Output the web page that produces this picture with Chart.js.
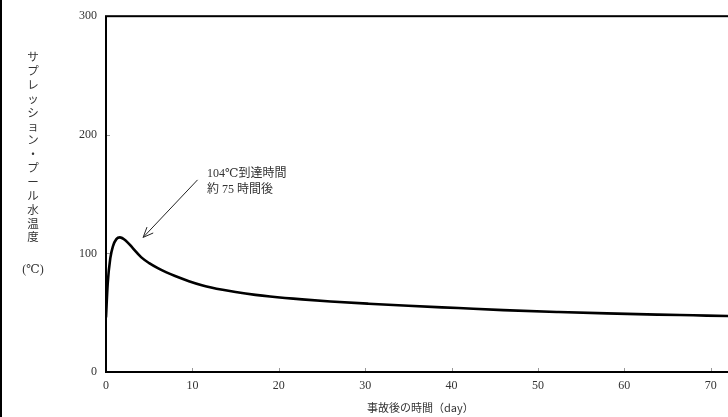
<!DOCTYPE html>
<html>
<head>
<meta charset="utf-8">
<script src="https://cdn.jsdelivr.net/npm/chart.js@4/dist/chart.umd.min.js"></script>
<style>
  html, body { margin: 0; padding: 0; background: #fff; overflow: hidden; }
  #wrap { width: 728px; height: 417px; overflow: hidden; position: relative; }
  canvas { display: block; }
</style>
</head>
<body>
<div id="wrap"><canvas id="c" width="810" height="417"></canvas></div>
<script>
// Elapsed time since the accident (days)
const days = [0, 0.2, 0.5, 0.8, 1.2, 1.6, 2.3, 3.1, 4.2, 5.0, 6.0, 7.0, 8.0, 9.6, 11.2, 13.5, 15, 17.3, 19, 22.7, 26, 30.4, 35, 40.8, 46, 52.4, 58, 63.9, 68, 72, 76, 80];
// Suppression pool water temperature (°C)
const poolTemp = [46, 75, 96, 106, 112, 113.5, 110.7, 104.5, 96, 91.8, 87.6, 84.0, 80.9, 76.6, 73.0, 69.3, 67.4, 65.0, 63.6, 61.2, 59.5, 57.6, 55.8, 53.9, 52.2, 50.6, 49.4, 48.4, 47.8, 47.2, 46.7, 46.3];

const yTitleChars = ['サ','プ','レ','ッ','シ','ョ','ン','・','プ','ー','ル','水','温','度'];
const yUnit = '(℃)';
const xTitle = '事故後の時間（day）';
const noteLines = ['104℃到達時間', '約 75 時間後'];
// arrow tail/tip and note anchor, in data units
const arrowFrom = { x: 10.6, y: 162 };
const arrowTo = { x: 4.3, y: 113.5 };
const noteAt = { x: 11.7, y1: 167.5, y2: 154 };

const SERIF = '"Liberation Serif", "DejaVu Serif", "Noto Sans CJK JP", serif';
const TEXT = '#333';

const decor = {
  id: 'decor',
  afterDraw(chart) {
    const { ctx, chartArea: a, scales: { x, y } } = chart;
    ctx.save();
    // page frame at the left edge
    ctx.fillStyle = '#000';
    ctx.fillRect(0, 0, 2, 417);

    // inward tick marks
    ctx.strokeStyle = '#999';
    ctx.lineWidth = 1;
    x.ticks.forEach((t, i) => {
      const px = Math.round(x.getPixelForTick(i)) + 0.5;
      ctx.beginPath(); ctx.moveTo(px, a.bottom); ctx.lineTo(px, a.bottom - 4); ctx.stroke();
    });
    y.ticks.forEach((t, i) => {
      const py = Math.round(y.getPixelForTick(i)) + 0.5;
      ctx.beginPath(); ctx.moveTo(a.left, py); ctx.lineTo(a.left + 4, py); ctx.stroke();
    });

    // plot frame
    ctx.strokeStyle = '#000';
    ctx.lineWidth = 2;
    ctx.strokeRect(a.left, a.top, a.right - a.left, a.bottom - a.top);

    // y axis title, stacked vertically
    ctx.fillStyle = TEXT;
    ctx.textAlign = 'center';
    ctx.textBaseline = 'middle';
    ctx.font = '11.5px "Noto Sans CJK JP", sans-serif';
    yTitleChars.forEach((ch, i) => ctx.fillText(ch, 33, 57 + i * 13.85));
    ctx.font = '12px ' + SERIF;
    ctx.fillText(yUnit, 33, 270);

    // x axis title
    ctx.font = '11px "Noto Sans CJK JP", sans-serif';
    ctx.fillText(xTitle, x.getPixelForValue(36.4), 408);

    // annotation arrow
    const x0 = x.getPixelForValue(arrowFrom.x), y0 = y.getPixelForValue(arrowFrom.y);
    const x1 = x.getPixelForValue(arrowTo.x), y1 = y.getPixelForValue(arrowTo.y);
    ctx.strokeStyle = '#222';
    ctx.lineWidth = 1;
    ctx.beginPath(); ctx.moveTo(x0, y0); ctx.lineTo(x1, y1); ctx.stroke();
    const ang = Math.atan2(y1 - y0, x1 - x0);
    const hl = 11, hw = 0.4;
    ctx.beginPath();
    ctx.moveTo(x1 - hl * Math.cos(ang - hw), y1 - hl * Math.sin(ang - hw));
    ctx.lineTo(x1, y1);
    ctx.lineTo(x1 - hl * Math.cos(ang + hw), y1 - hl * Math.sin(ang + hw));
    ctx.stroke();

    // annotation text
    ctx.textAlign = 'left';
    ctx.fillStyle = TEXT;
    ctx.font = '12px ' + SERIF;
    const tx = x.getPixelForValue(noteAt.x);
    ctx.fillText(noteLines[0], tx, y.getPixelForValue(noteAt.y1));
    ctx.fillText(noteLines[1], tx, y.getPixelForValue(noteAt.y2));
    ctx.restore();
  }
};

new Chart(document.getElementById('c'), {
  type: 'line',
  data: {
    datasets: [{
      data: days.map((d, i) => ({ x: d, y: poolTemp[i] })),
      borderColor: '#000',
      borderWidth: 2.6,
      pointRadius: 0,
      fill: false,
      cubicInterpolationMode: 'monotone'
    }]
  },
  options: {
    responsive: false,
    animation: false,
    layout: { padding: { top: 14, right: 10, left: 0, bottom: 0 } },
    plugins: { legend: { display: false }, tooltip: { enabled: false } },
    scales: {
      x: {
        type: 'linear', min: 0, max: 80,
        ticks: { stepSize: 10, color: TEXT, font: { family: SERIF, size: 12 }, padding: 7, maxRotation: 0 },
        grid: { display: false, drawTicks: false },
        border: { display: false },
        afterFit(s) { s.height = 45; }
      },
      y: {
        min: 0, max: 300,
        ticks: { stepSize: 100, color: TEXT, font: { family: SERIF, size: 12 }, padding: 9 },
        grid: { display: false, drawTicks: false },
        border: { display: false },
        afterFit(s) { s.width = 106; }
      }
    }
  },
  plugins: [decor]
});
</script>
</body>
</html>
